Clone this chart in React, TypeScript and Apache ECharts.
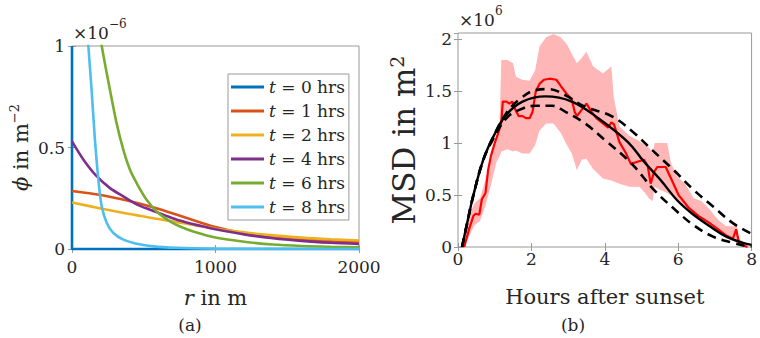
import React, { useEffect, useRef } from 'react';
import * as echarts from 'echarts';

// ---------- Left panel (a): phi vs r ----------
const leftXTicks = [0, 1000, 2000];
const leftYTicks = [0, 0.5, 1];

const r0 = [0, 0, 2000];
const phi0 = [1, 0, 0];

const r1 = [0, 200, 400, 600, 800, 1000, 1200, 1400, 1600, 1800, 2000];
const phi1 = [0.286, 0.266, 0.236, 0.198, 0.153, 0.108, 0.077, 0.058, 0.046, 0.038, 0.033];

const r2 = [0, 200, 400, 600, 800, 1000, 1200, 1400, 1600, 1800, 2000];
const phi2 = [0.229, 0.2, 0.172, 0.148, 0.124, 0.1, 0.082, 0.067, 0.056, 0.048, 0.042];

const r4 = [0, 80, 170, 265, 360, 450, 545, 640, 750, 900, 1000, 1200, 1400, 1600, 1800, 2000];
const phi4 = [0.53, 0.44, 0.36, 0.3, 0.258, 0.22, 0.193, 0.168, 0.14, 0.113, 0.097, 0.072, 0.053, 0.04, 0.031, 0.025];

const r6 = [180, 207, 265, 311, 358, 404, 451, 520, 590, 683, 753, 850, 1000, 1200, 1400, 1600, 1800, 2000];
const phi6 = [1.12, 1.0, 0.782, 0.619, 0.488, 0.39, 0.324, 0.242, 0.185, 0.136, 0.111, 0.085, 0.057, 0.036, 0.022, 0.015, 0.011, 0.008];

const r8 = [100, 114, 137, 160, 184, 207, 242, 288, 358, 451, 567, 730, 1000, 1500, 2000];
const phi8 = [1.15, 1.0, 0.78, 0.537, 0.34, 0.21, 0.128, 0.079, 0.046, 0.026, 0.013, 0.006, 0.002, 0.0005, 0];

const hoursLabels = ['0', '1', '2', '4', '6', '8'];
const leftColors = ['#0072BD', '#D95319', '#EDB120', '#7E2F8E', '#77AC30', '#4DBEEE'];

// ---------- Right panel (b): MSD vs hours ----------
const bandT = [0.15, 0.3, 0.45, 0.6, 0.75, 0.9, 1.05, 1.13, 1.18, 1.35, 1.5, 1.58, 1.75, 1.95, 2.1, 2.22, 2.4, 2.6, 2.8, 2.97, 3.1, 3.24, 3.37, 3.5, 3.68, 3.95, 4.18, 4.24, 4.4, 4.67, 4.94, 5.1, 5.2, 5.3, 5.36, 5.5, 5.7, 5.8, 5.97, 6.19, 6.42, 6.64, 6.86, 7.09, 7.31, 7.5, 7.58, 7.67, 7.8, 7.95];
const bandHi = [0, 0.3, 0.42, 0.47, 0.65, 0.84, 1.06, 1.15, 1.8, 1.8, 1.77, 1.64, 1.61, 1.6, 1.7, 1.93, 2.02, 2.05, 2.02, 1.95, 1.86, 1.77, 1.82, 1.88, 1.74, 1.67, 1.74, 1.45, 1.16, 1.07, 1.02, 0.98, 0.96, 0.9, 1.0, 1.0, 1.0, 0.81, 0.68, 0.61, 0.47, 0.44, 0.36, 0.26, 0.2, 0.2, 0.23, 0.06, 0.02, 0];
const bandLo = [0, 0.1, 0.21, 0.25, 0.4, 0.6, 0.82, 0.87, 0.92, 0.94, 0.92, 0.93, 0.9, 0.9, 0.98, 1.12, 1.19, 1.19, 1.1, 0.98, 0.9, 0.74, 0.84, 0.85, 0.75, 0.66, 0.64, 0.63, 0.61, 0.58, 0.58, 0.52, 0.47, 0.44, 0.58, 0.55, 0.52, 0.5, 0.46, 0.38, 0.29, 0.24, 0.19, 0.14, 0.09, 0.06, 0.04, 0.03, 0.015, 0];

const obsT = [0.17, 0.3, 0.42, 0.48, 0.58, 0.65, 0.75, 0.82, 0.9, 1.0, 1.1, 1.18, 1.22, 1.32, 1.4, 1.48, 1.55, 1.65, 1.76, 1.85, 1.95, 2.03, 2.12, 2.22, 2.34, 2.5, 2.68, 2.8, 2.97, 3.1, 3.18, 3.24, 3.37, 3.5, 3.64, 3.77, 3.95, 4.09, 4.18, 4.25, 4.4, 4.58, 4.71, 4.89, 5.07, 5.17, 5.25, 5.34, 5.43, 5.66, 5.83, 6.01, 6.28, 6.55, 6.82, 7.09, 7.31, 7.49, 7.58, 7.62, 7.67, 7.89];
const obsMSD = [0, 0.17, 0.3, 0.32, 0.31, 0.46, 0.52, 0.74, 0.88, 1.0, 1.1, 1.2, 1.4, 1.4, 1.38, 1.4, 1.33, 1.26, 1.26, 1.24, 1.24, 1.3, 1.5, 1.57, 1.61, 1.62, 1.61, 1.55, 1.47, 1.42, 1.3, 1.26, 1.32, 1.38, 1.3, 1.24, 1.19, 1.15, 1.2, 1.18, 1.01, 0.9, 0.8, 0.82, 0.84, 0.78, 0.61, 0.72, 0.77, 0.77, 0.64, 0.5, 0.38, 0.3, 0.24, 0.17, 0.11, 0.08, 0.17, 0.1, 0.03, 0];

const fitT = [0.11, 0.25, 0.42, 0.69, 0.96, 1.31, 1.76, 2.39, 3.1, 3.82, 4.63, 5.07, 5.52, 5.97, 6.42, 6.86, 7.31, 7.76, 8.0];
const fitMSD = [0, 0.23, 0.5, 0.84, 1.06, 1.27, 1.4, 1.45, 1.4, 1.24, 1.01, 0.82, 0.645, 0.45, 0.31, 0.2, 0.1, 0.04, 0.02];

const fitHiT = [0.11, 0.25, 0.42, 0.69, 0.96, 1.32, 1.67, 2.12, 2.48, 2.93, 3.46, 4.18, 4.76, 5.3, 5.88, 6.42, 6.95, 7.49, 7.98];
const fitHiMSD = [0, 0.23, 0.5, 0.84, 1.06, 1.29, 1.42, 1.51, 1.52, 1.46, 1.35, 1.26, 1.11, 0.93, 0.74, 0.55, 0.39, 0.23, 0.13];

const fitLoT = [0.11, 0.25, 0.42, 0.69, 0.96, 1.32, 1.67, 2.12, 2.57, 2.93, 3.46, 4.0, 4.71, 5.34, 5.88, 6.42, 6.95, 7.49, 7.85, 8.0];
const fitLoMSD = [0, 0.23, 0.5, 0.84, 1.04, 1.24, 1.32, 1.36, 1.36, 1.3, 1.19, 1.03, 0.81, 0.55, 0.37, 0.21, 0.1, 0.04, 0.01, 0.005];

const rightXTicks = [0, 2, 4, 6, 8];

// ---------- helpers ----------
const zip = (a: number[], b: number[]) => a.map((v, i) => [v, b[i]]);
const FONT = '"DejaVu Serif", serif';
const TXT = '#262626';
const BOX = '#999999';

const tickStyle = { inside: true, length: 4, lineStyle: { color: BOX, width: 1 } };
const labelStyle = { fontFamily: FONT, fontSize: 17, color: TXT, formatter: (v: number) => String(v) };
const nameStyle = (fs: number, lh: number) => ({
  fontFamily: FONT,
  fontSize: fs,
  color: TXT,
  lineHeight: lh,
  rich: {
    i: { fontFamily: FONT, fontSize: fs, fontStyle: 'italic', color: TXT, lineHeight: lh },
    sup: { fontFamily: FONT, fontSize: Math.round(fs * 0.62), color: TXT, lineHeight: Math.round(fs * 0.62), verticalAlign: 'top' },
  },
});

function buildOption() {
  const leftData = [zip(r0, phi0), zip(r1, phi1), zip(r2, phi2), zip(r4, phi4), zip(r6, phi6), zip(r8, phi8)];
  const leftNames = hoursLabels.map((h) => `t = ${h} hrs`);

  const leftSeries = leftData.map((d, i) => ({
    name: leftNames[i],
    type: 'line',
    xAxisIndex: 0,
    yAxisIndex: 0,
    data: d,
    showSymbol: false,
    symbol: 'none',
    smooth: i === 0 ? false : 0.3,
    clip: i !== 0,
    color: leftColors[i],
    lineStyle: { width: 2.6, color: leftColors[i] },
    z: i === 0 ? 1 : 2,
  }));

  const bandData = bandT.map((t, i) => [t, bandLo[i], bandHi[i]]);

  const rightSeries: any[] = [
    {
      type: 'custom', xAxisIndex: 2, yAxisIndex: 2, data: bandData, silent: true,
      encode: { x: 0, y: [1, 2] },
      renderItem: (params: any, api: any) => {
        if (params.dataIndex !== 0) return null;
        const up = bandT.map((t, i) => api.coord([t, bandHi[i]]));
        const lo = bandT.map((t, i) => api.coord([t, bandLo[i]])).reverse();
        return { type: 'polygon', shape: { points: [...up, ...lo] }, style: { fill: '#FFB6B6' } };
      },
      z: 1,
    },
    {
      type: 'line', xAxisIndex: 2, yAxisIndex: 2, data: zip(obsT, obsMSD),
      symbol: 'none', lineStyle: { color: '#FF0000', width: 2.2 }, z: 2,
    },
    {
      type: 'line', xAxisIndex: 2, yAxisIndex: 2, data: zip(fitHiT, fitHiMSD), smooth: 0.4,
      symbol: 'none', lineStyle: { color: '#000', width: 2.6, type: [9, 6] }, z: 3,
    },
    {
      type: 'line', xAxisIndex: 2, yAxisIndex: 2, data: zip(fitLoT, fitLoMSD), smooth: 0.4,
      symbol: 'none', lineStyle: { color: '#000', width: 2.6, type: [9, 6] }, z: 3,
    },
    {
      type: 'line', xAxisIndex: 2, yAxisIndex: 2, data: zip(fitT, fitMSD), smooth: 0.4,
      symbol: 'none', lineStyle: { color: '#000', width: 2.4 }, z: 4,
    },
  ];

  const halfFmt = (v: number) => (Math.abs(v * 2 - Math.round(v * 2)) < 1e-6 ? String(v) : '');

  return {
    animation: false,
    backgroundColor: '#ffffff',
    grid: [
      { left: 72, top: 46, width: 287, height: 203, show: true, borderColor: BOX, borderWidth: 1, backgroundColor: 'transparent' },
      { left: 458, top: 33, width: 298, height: 214, show: true, borderColor: BOX, borderWidth: 1, backgroundColor: 'transparent' },
    ],
    xAxis: [
      {
        gridIndex: 0, type: 'value', min: leftXTicks[0], max: leftXTicks[2], interval: leftXTicks[1] - leftXTicks[0],
        position: 'bottom', axisLine: { show: false }, axisTick: tickStyle, splitLine: { show: false },
        axisLabel: { ...labelStyle, margin: 9 },
        name: '{i|r} in m', nameLocation: 'middle', nameGap: 37, nameTextStyle: nameStyle(21, 24),
      },
      {
        gridIndex: 0, type: 'value', min: leftXTicks[0], max: leftXTicks[2], interval: leftXTicks[1] - leftXTicks[0],
        position: 'top', axisLine: { show: false }, axisTick: tickStyle, splitLine: { show: false }, axisLabel: { show: false },
      },
      {
        gridIndex: 1, type: 'value', min: rightXTicks[0], max: rightXTicks[4], interval: 2,
        position: 'bottom', axisLine: { show: false }, axisTick: tickStyle, splitLine: { show: false },
        axisLabel: { ...labelStyle, margin: 3 },
        name: 'Hours after sunset', nameLocation: 'middle', nameGap: 38, nameTextStyle: nameStyle(21, 24),
      },
      {
        gridIndex: 1, type: 'value', min: rightXTicks[0], max: rightXTicks[4], interval: 2,
        position: 'top', axisLine: { show: false }, axisTick: tickStyle, splitLine: { show: false }, axisLabel: { show: false },
      },
    ],
    yAxis: [
      {
        gridIndex: 0, type: 'value', min: leftYTicks[0], max: leftYTicks[2], interval: 0.5,
        position: 'left', axisLine: { show: false }, axisTick: tickStyle, splitLine: { show: false },
        axisLabel: { ...labelStyle, margin: 7 },
        name: '{i|ϕ} in m{sup|−2}', nameLocation: 'middle', nameGap: 32, nameTextStyle: nameStyle(21, 26),
      },
      {
        gridIndex: 0, type: 'value', min: leftYTicks[0], max: leftYTicks[2], interval: 0.5,
        position: 'right', axisLine: { show: false }, axisTick: tickStyle, splitLine: { show: false }, axisLabel: { show: false },
      },
      {
        gridIndex: 1, type: 'value', min: 0, max: 2.06, interval: 0.5,
        position: 'left', axisLine: { show: false }, axisTick: tickStyle, splitLine: { show: false },
        axisLabel: { ...labelStyle, margin: 6, formatter: halfFmt, showMaxLabel: false },
        name: 'MSD in m{sup|2}', nameLocation: 'middle', nameGap: 35, nameTextStyle: nameStyle(31, 34),
      },
      {
        gridIndex: 1, type: 'value', min: 0, max: 2.06, interval: 0.5,
        position: 'right', axisLine: { show: false }, axisTick: tickStyle, splitLine: { show: false }, axisLabel: { show: false },
      },
    ],
    legend: {
      orient: 'vertical',
      left: 228,
      top: 74,
      data: leftNames,
      icon: 'rect',
      itemWidth: 33,
      itemHeight: 3,
      itemGap: 4,
      padding: [3, 4, 3, 3],
      backgroundColor: '#ffffff',
      borderColor: BOX,
      borderWidth: 1,
      borderRadius: 0,
      selectedMode: false,
      formatter: (name: string) => name.replace(/^t/, '{i|t}'),
      textStyle: {
        fontFamily: FONT, fontSize: 17, color: TXT, lineHeight: 20,
        rich: { i: { fontFamily: FONT, fontSize: 17, fontStyle: 'italic', color: TXT, lineHeight: 20 } },
      },
    },
    graphic: [
      {
        type: 'text', left: 73, top: 18, z: 10,
        style: {
          text: '×10{sup|−6}', fontFamily: FONT, fontSize: 17, fill: TXT, lineHeight: 29,
          rich: { sup: { fontFamily: FONT, fontSize: 12, fill: TXT, lineHeight: 12, verticalAlign: 'top' } },
        },
      },
      {
        type: 'text', left: 459, top: 5, z: 10,
        style: {
          text: '×10{sup|6}', fontFamily: FONT, fontSize: 17, fill: TXT, lineHeight: 29,
          rich: { sup: { fontFamily: FONT, fontSize: 12, fill: TXT, lineHeight: 12, verticalAlign: 'top' } },
        },
      },
      {
        type: 'text', x: 190, y: 325, z: 10,
        style: { text: '(a)', fontFamily: FONT, fontSize: 17, fill: TXT, align: 'center', verticalAlign: 'middle' },
      },
      {
        type: 'text', x: 573, y: 325, z: 10,
        style: { text: '(b)', fontFamily: FONT, fontSize: 17, fill: TXT, align: 'center', verticalAlign: 'middle' },
      },
    ],
    series: [...leftSeries, ...rightSeries],
  };
}

export default function App() {
  const ref = useRef<HTMLDivElement>(null);
  useEffect(() => {
    if (!ref.current) return;
    const chart = echarts.init(ref.current, null, { renderer: 'svg' });
    chart.setOption(buildOption() as any);
    return () => chart.dispose();
  }, []);
  return (
    <div
      ref={ref}
      style={{ position: 'fixed', left: 0, top: 0, width: 760, height: 338, background: '#fff' }}
    />
  );
}
